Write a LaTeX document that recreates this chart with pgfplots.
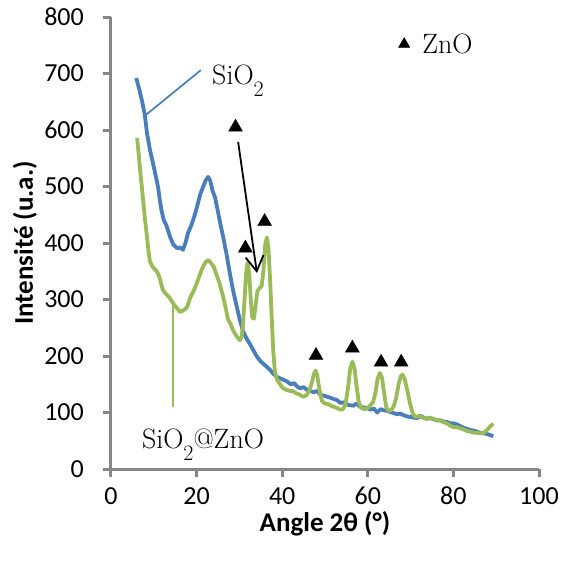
\documentclass[border=0pt]{standalone}
\usepackage{fontspec}
\usepackage{pgfplots}
\pgfplotsset{compat=1.18}
\usetikzlibrary{arrows.meta}
\newfontfamily\calibri{Carlito}
\definecolor{xblue}{RGB}{74,126,187}
\definecolor{xgreen}{RGB}{155,187,89}
\definecolor{axgray}{RGB}{134,134,134}
\newcommand{\subtwo}{\raisebox{-12pt}{\fontsize{22}{22}\selectfont 2}}
\begin{document}
\begin{tikzpicture}
\begin{axis}[
  scale only axis, width=428pt, height=452pt,
  xmin=0, xmax=100, ymin=0, ymax=800,
  xtick={0,20,...,100}, ytick={0,100,...,800},
  axis x line*=bottom, axis y line*=left,
  axis line style={axgray, line width=3pt},
  tick align=outside, major tick length=8pt,
  tick style={axgray, line width=3pt},
  /pgf/number format/assume math mode=true,
  ticklabel style={font=\calibri\fontsize{26}{30}\selectfont, text=black, inner sep=0pt},
  xticklabel style={yshift=-10pt},
  yticklabel style={xshift=-19pt},
  clip=false,
]
\addplot[xblue, line width=3.8pt, line join=round] coordinates {
(5.9,692)(6.6,672)(7.2,653)(7.9,627)(8.4,595)(9.1,565)(9.7,545)(10.3,524)(11.0,499)(11.4,476)(11.8,458)(12.3,441)(12.9,432)(13.8,411)(14.5,398)(15.4,391)(16.1,392)(16.8,388)(17.4,400)(18.0,418)(18.8,432)(19.5,448)(20.1,464)(20.8,485)(21.5,499)(22.2,512)(22.7,517)(23.2,510)(23.7,493)(24.3,481)(25.0,455)(25.6,432)(26.2,411)(27.0,380)(27.8,345)(28.5,317)(29.3,290)(30.1,264)(30.8,245)(31.6,232)(32.4,222)(33.2,211)(34.0,200)(34.8,192)(35.6,186)(36.4,181)(37.2,175)(38.0,168)(38.8,163)(39.6,160)(40.3,158)(41.1,155)(42.0,150)(42.8,152)(43.5,146)(44.2,143)(45.0,145)(45.8,140)(46.6,138)(47.4,136)(48.2,138)(49.0,131)(49.7,130)(50.5,128)(51.3,126)(52.0,124)(52.8,122)(53.6,117)(54.3,118)(55.1,114)(55.8,113)(56.6,112)(57.4,116)(58.2,110)(59.0,109)(59.8,108)(60.6,105)(61.4,107)(62.2,100)(63.0,106)(63.6,104)(64.5,103)(65.3,101)(66.0,99)(66.8,97)(67.6,98)(68.4,95)(69.2,93)(70.0,92)(70.8,91)(71.5,90)(72.3,94)(73.1,91)(73.8,89)(74.6,90)(75.4,88)(76.2,86)(77.0,86)(77.7,84)(78.5,83)(79.2,81)(80.0,81)(80.8,79)(81.6,76)(82.4,73)(83.2,71)(84.0,69)(84.8,68)(85.5,66)(86.3,64)(87.1,63)(87.9,62)(88.6,60)(89.3,58)
};
\addplot[xgreen, line width=3.8pt, line join=round] coordinates {
(6.1,586)(6.5,555)(6.8,529)(7.2,500)(7.5,476)(7.9,445)(8.3,418)(8.7,390)(9.1,367)(9.7,358)(10.3,353)(10.7,350)(11.3,340)(12.1,317)(12.8,310)(13.5,305)(14.2,297)(14.8,290)(15.4,285)(16.1,278)(16.7,280)(17.3,283)(17.8,287)(18.5,303)(19.3,315)(20.1,330)(20.8,345)(21.5,358)(22.1,366)(22.7,370)(23.3,365)(24.0,358)(24.6,345)(25.3,330)(26.2,305)(26.8,285)(27.3,266)(28.0,255)(28.5,246)(29.1,238)(29.6,232)(30.1,228)(30.5,234)(30.8,250)(31.2,300)(31.6,350)(31.9,365)(32.3,345)(32.7,295)(33.0,268)(33.4,266)(33.8,290)(34.2,315)(34.7,320)(35.2,324)(35.6,350)(36.0,395)(36.4,410)(36.8,390)(37.2,330)(37.6,260)(37.9,210)(38.3,172)(38.8,158)(39.5,150)(40.2,143)(41.0,140)(41.8,138)(42.5,138)(43.2,134)(44.0,132)(44.9,128)(45.6,130)(46.3,138)(46.9,152)(47.4,168)(47.8,174)(48.2,165)(48.7,140)(49.3,120)(50.0,116)(50.7,115)(51.4,112)(52.1,110)(52.8,108)(53.5,105)(54.2,106)(54.8,115)(55.4,145)(55.9,178)(56.4,190)(56.9,178)(57.4,145)(57.9,118)(58.5,108)(59.2,106)(60.0,108)(60.6,113)(61.2,118)(61.8,135)(62.3,160)(62.8,170)(63.3,162)(63.8,135)(64.3,110)(64.8,103)(65.4,104)(66.0,110)(66.6,125)(67.2,150)(67.7,164)(68.1,167)(68.6,160)(69.2,140)(69.8,118)(70.5,98)(71.2,92)(72.0,94)(72.8,91)(73.6,89)(74.4,91)(75.2,89)(76.0,87)(76.8,86)(77.6,83)(78.4,81)(79.2,77)(80.0,74)(80.8,74)(81.6,72)(82.4,70)(83.2,67)(84.0,66)(84.8,64)(85.6,64)(86.4,63)(87.0,64)(87.6,67)(88.2,72)(88.8,77)(89.3,80)
};
% triangles marking ZnO peaks
\addplot[only marks, mark=triangle*, mark size=8pt, black] coordinates {
(29.1,605)(31.4,391)(35.9,438)(47.9,201)(56.4,214)(63.1,189)(67.8,189)
};
\addplot[only marks, mark=triangle*, mark size=6.5pt, black] coordinates {(68.5,752)};
% callouts
\addplot[xblue, line width=1.7pt] coordinates {(8.2,627)(21.0,706)};
\addplot[xgreen, line width=1.7pt] coordinates {(14.5,290)(14.5,110)};
\addplot[black, line width=1.8pt, -{Straight Barb[length=15pt,width=18pt,line width=1.8pt]}] coordinates {(29.7,579)(34.1,347)};
\node[anchor=base west, inner sep=0pt, font=\fontsize{28}{30}\selectfont] at (axis cs:23.6,680) {SiO\subtwo};
\node[anchor=base west, inner sep=0pt, font=\fontsize{28}{30}\selectfont] at (axis cs:72.7,736) {ZnO};
\node[anchor=base west, inner sep=0pt, font=\fontsize{28}{30}\selectfont] at (axis cs:7.2,37) {SiO\subtwo@ZnO};
% axis labels
\node[anchor=base, inner sep=0pt, font=\calibri\bfseries\fontsize{27}{30}\selectfont] at (axis description cs:0.5,-0.1372) {Angle 2θ (°)};
\node[anchor=center, rotate=90, inner sep=0pt, font=\calibri\bfseries\fontsize{27}{30}\selectfont] at (axis description cs:-0.2009,0.5) {Intensité (u.a.)};
\end{axis}
\path (-111pt,-91pt) rectangle (456pt,469pt);
\end{tikzpicture}
\end{document}
